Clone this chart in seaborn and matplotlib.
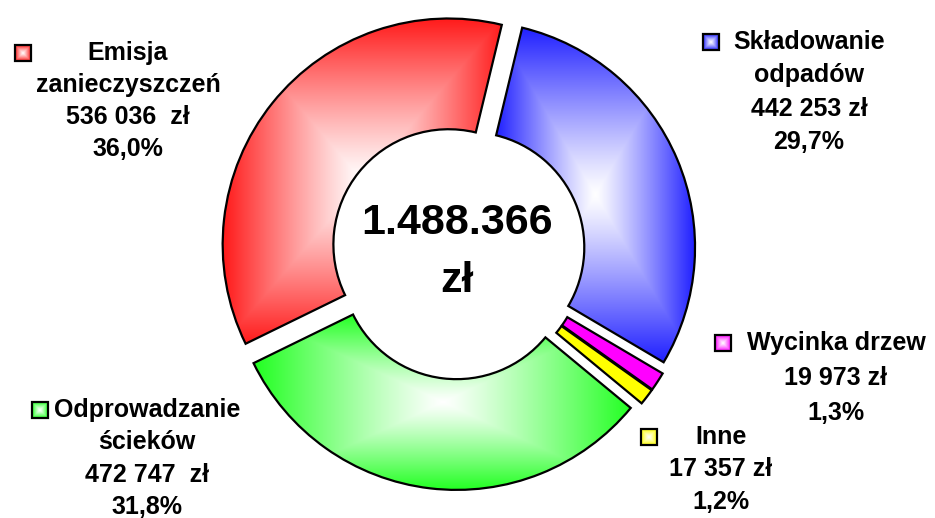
import numpy as np
import matplotlib
matplotlib.use('Agg')
import matplotlib.pyplot as plt
from matplotlib.patches import Rectangle
from matplotlib.colors import to_rgb
import seaborn as sns

# dane
kategorie = ['Składowanie\nodpadów', 'Wycinka drzew', 'Inne', 'Odprowadzanie\nścieków', 'Emisja\nzanieczyszczeń']
kwoty = [442253, 19973, 17357, 472747, 536036]
kwoty_tekst = ['442 253 zł', '19 973 zł', '17 357 zł', '472 747  zł', '536 036  zł']
procenty = ['29,7%', '1,3%', '1,2%', '31,8%', '36,0%']
suma_tekst = '1.488.366\nzł'
kolory = ['#2020ff', '#ff00ff', '#ffff00', '#22ff22', '#ff1a1a']

sns.set_style('white')
plt.rcParams['font.family'] = ['Liberation Sans', 'DejaVu Sans']
plt.rcParams['text.color'] = 'black'

W, H = 935, 518
CX, CY, R = 458, 252, 226  # środek i promień w pikselach

fig = plt.figure(figsize=(W / 100, H / 100), dpi=100)
ax = fig.add_axes([0, 0, 1, 1])
xlim = (-CX / R, (W - CX) / R)
ylim = (-(H - CY) / R, CY / R)


def px(x, y):
    # piksele -> dane
    return (x - CX) / R, (CY - y) / R


def gradient(ax, patch, kolor, bbox, zorder=1):
    # prostokątny gradient od środka (biały) do krawędzi (kolor)
    x0, y0, x1, y1 = bbox
    u, v = np.meshgrid(np.linspace(-1, 1, 300), np.linspace(-1, 1, 300))
    t = np.maximum(np.abs(u), np.abs(v))[..., None] ** 1.15
    c = np.array(to_rgb(kolor))
    img = 1 - (1 - c) * t
    im = ax.imshow(img, extent=[x0, x1, y0, y1], origin='lower',
                   aspect='auto', interpolation='bilinear', zorder=zorder)
    im.set_clip_path(patch)


wedges, _ = ax.pie(kwoty, colors=kolory, startangle=76.4, counterclock=False,
                   radius=1, explode=[0.053] * 5,
                   wedgeprops=dict(width=0.49, edgecolor='black', linewidth=1.6))
udzial = np.array(kwoty) / sum(kwoty)
for w, k, u in zip(wedges, kolory, udzial):
    w.set_zorder(2)
    if u > 0.05:
        w.set_facecolor('none')
        e = w.get_path().get_extents()
        gradient(ax, w, k, (e.x0, e.y0, e.x1, e.y1))

# suma w środku
ax.text(*px(457, 252), suma_tekst, ha='center', va='center', fontsize=31,
        fontweight='bold', linespacing=1.55, zorder=3)

# etykiety: środek bloku x, y pierwszej linii, odstęp, kwadrat (x, y)
pozycje = [(809, 42, 33.5, 711, 42),
           (836, 343, 35, 723, 343),
           (721, 437, 32.5, 649, 437),
           (147, 410, 32.5, 40, 410),
           (128, 53, 32, 23, 53)]
for kat, kw, pr, k, (bx, by, dy, sx, sy) in zip(kategorie, kwoty_tekst, procenty, kolory, pozycje):
    linie = kat.split('\n') + [kw, pr]
    for i, l in enumerate(linie):
        ax.text(*px(bx, by + i * dy), l, ha='center', va='center', fontsize=18,
                fontweight='bold', zorder=3)
    a = 16
    x0, y0 = px(sx - a / 2, sy + a / 2)
    kw_ = Rectangle((x0, y0), a / R, a / R, facecolor='none', edgecolor='black',
                    linewidth=1.6, zorder=4)
    ax.add_patch(kw_)
    gradient(ax, kw_, k, (x0, y0, x0 + a / R, y0 + a / R), zorder=3)

ax.set_xlim(*xlim)
ax.set_ylim(*ylim)
ax.set_aspect('auto')
ax.axis('off')
fig.savefig('out.png', dpi=100, facecolor='white')
